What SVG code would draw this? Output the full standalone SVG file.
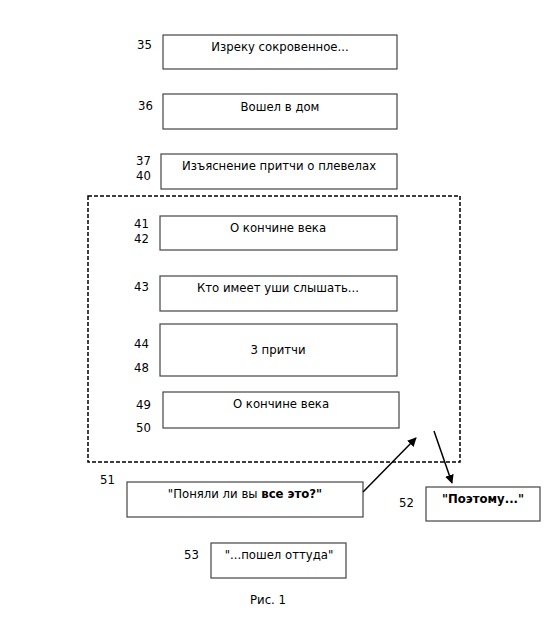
<svg xmlns="http://www.w3.org/2000/svg" width="549" height="635" viewBox="0 0 549 635">
<style>
text{font-family:"DejaVu Sans",Verdana,sans-serif;font-size:11.7px;fill:#000}
.box{fill:#fff;stroke:#444;stroke-width:1.2}
.c{text-anchor:middle}
.b{font-weight:bold}
.dash{fill:none;stroke:#000;stroke-width:1.5;stroke-dasharray:4 2}
.conn{stroke:#000;stroke-width:1.5;fill:none;marker-end:url(#ah)}
</style>
<defs>
<marker id="ah" viewBox="0 0 10 10" refX="9" refY="5" markerWidth="6" markerHeight="6" markerUnits="strokeWidth" orient="auto">
<path d="M0,0 L10,5 L0,10 z" fill="#000"/>
</marker>
</defs>
<rect fill="#fff" x="0" y="0" width="549" height="635"/>
<g id="group-frame"><rect class="dash" x="88" y="196" width="372" height="266"/></g>
<g id="n35"><rect class="box" x="163" y="35" width="234" height="34"/><text class="c" x="280" y="51">Изреку сокровенное...</text><text x="137" y="49">35</text></g>
<g id="n36"><rect class="box" x="163" y="94" width="234" height="35"/><text class="c" x="280" y="111">Вошел в дом</text><text x="138" y="110">36</text></g>
<g id="n37"><rect class="box" x="161" y="154" width="236" height="35"/><text class="c" x="279" y="170">Изъяснение притчи о плевелах</text><text x="136" y="165">37</text><text x="136" y="180">40</text></g>
<g id="n41"><rect class="box" x="160" y="216" width="237" height="34"/><text class="c" x="278" y="232">О кончине века</text><text x="134" y="228">41</text><text x="134" y="243">42</text></g>
<g id="n43"><rect class="box" x="160" y="276" width="237" height="35"/><text class="c" x="278" y="292">Кто имеет уши слышать...</text><text x="134" y="291">43</text></g>
<g id="n44"><rect class="box" x="160" y="324" width="237" height="52"/><text class="c" x="278" y="354">3 притчи</text><text x="134" y="348">44</text><text x="134" y="372">48</text></g>
<g id="n49"><rect class="box" x="163" y="392" width="236" height="36"/><text class="c" x="281" y="408">О кончине века</text><text x="136" y="409">49</text><text x="136" y="432">50</text></g>
<g id="n51"><rect class="box" x="127" y="482" width="236" height="35"/><text class="c" x="245" y="498">"Поняли ли вы <tspan class="b">все это?"</tspan></text><text x="100" y="484">51</text></g>
<g id="n52"><rect class="box" x="426" y="487" width="114" height="34"/><text class="c b" x="483" y="503">"Поэтому..."</text><text x="399" y="507">52</text></g>
<g id="n53"><rect class="box" x="211" y="543" width="135" height="35"/><text class="c" x="279" y="559">"...пошел оттуда"</text><text x="184" y="559">53</text></g>
<g id="connectors">
<line class="conn" x1="363" y1="492" x2="416" y2="438"/>
<line class="conn" x1="434" y1="431" x2="452" y2="483"/>
</g>
<text class="c" x="268" y="604">Рис. 1</text>
</svg>
